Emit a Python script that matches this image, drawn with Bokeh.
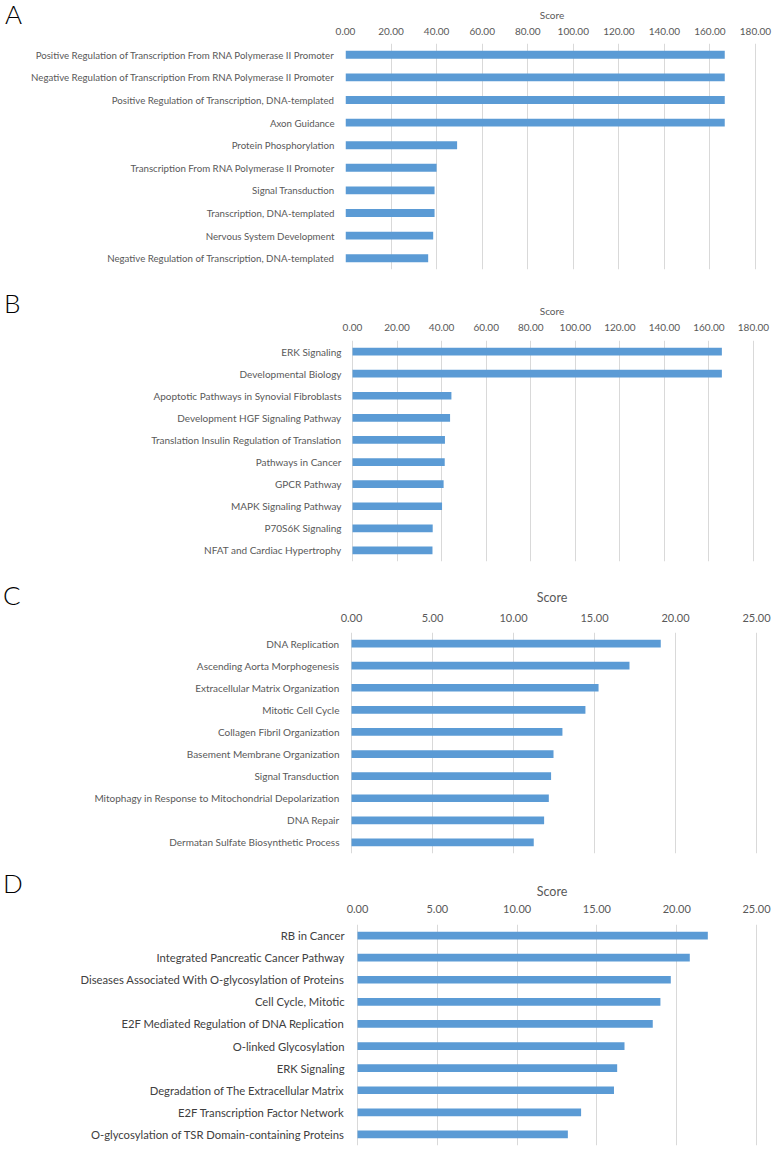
from bokeh.plotting import figure
from bokeh.layouts import column, row
from bokeh.models import Range1d, FactorRange, FixedTicker, PrintfTickFormatter, Div
from bokeh.embed import file_html
from bokeh.resources import INLINE

# ---------------- data ----------------
a_terms = [
    "Positive Regulation of Transcription From RNA Polymerase II Promoter",
    "Negative Regulation of Transcription From RNA Polymerase II Promoter",
    "Positive Regulation of Transcription, DNA-templated",
    "Axon Guidance",
    "Protein Phosphorylation",
    "Transcription From RNA Polymerase II Promoter",
    "Signal Transduction",
    "Transcription, DNA-templated",
    "Nervous System Development",
    "Negative Regulation of Transcription, DNA-templated",
]
a_scores = [166.5, 166.5, 166.5, 166.5, 49.0, 40.0, 39.1, 39.1, 38.5, 36.3]

b_terms = [
    "ERK Signaling",
    "Developmental Biology",
    "Apoptotic Pathways in Synovial Fibroblasts",
    "Development HGF Signaling Pathway",
    "Translation Insulin Regulation of Translation",
    "Pathways in Cancer",
    "GPCR Pathway",
    "MAPK Signaling Pathway",
    "P70S6K Signaling",
    "NFAT and Cardiac Hypertrophy",
]
b_scores = [165.8, 165.8, 44.4, 43.8, 41.5, 41.4, 40.9, 40.2, 36.0, 35.9]

c_terms = [
    "DNA Replication",
    "Ascending Aorta Morphogenesis",
    "Extracellular Matrix Organization",
    "Mitotic Cell Cycle",
    "Collagen Fibril Organization",
    "Basement Membrane Organization",
    "Signal Transduction",
    "Mitophagy in Response to Mitochondrial Depolarization",
    "DNA Repair",
    "Dermatan Sulfate Biosynthetic Process",
]
c_scores = [19.09, 17.16, 15.25, 14.44, 13.02, 12.47, 12.32, 12.18, 11.89, 11.25]

d_terms = [
    "RB in Cancer",
    "Integrated Pancreatic Cancer Pathway",
    "Diseases Associated With O-glycosylation of Proteins",
    "Cell Cycle, Mitotic",
    "E2F Mediated Regulation of DNA Replication",
    "O-linked Glycosylation",
    "ERK Signaling",
    "Degradation of The Extracellular Matrix",
    "E2F Transcription Factor Network",
    "O-glycosylation of TSR Domain-containing Proteins",
]
d_scores = [21.95, 20.82, 19.63, 18.98, 18.50, 16.73, 16.27, 16.07, 14.01, 13.18]

ticks_ab = [0, 20, 40, 60, 80, 100, 120, 140, 160, 180]
ticks_cd = [0, 5, 10, 15, 20, 25]

FONT = "Lato"
BAR = "#5B9BD5"
GRID = "#D9D9D9"
TXT = "#595959"
PAGE_W = 773
DIV_W = 24
FRAME_L = 345   # common frame left (page px)
FRAME_R = 758   # common frame right (page px)


def panel(letter, terms, scores, ticks, fig_top, fig_bottom, zero_px, max_px,
          frame_top, frame_bottom, label_right, lab_size, lab_color, tick_size,
          score_size, tick_standoff, score_standoff, letter_x, letter_top):
    xmax = ticks[-1]
    scale = (max_px - zero_px) / xmax
    x0 = (FRAME_L - zero_px) / scale
    x1 = xmax + (FRAME_R - max_px) / scale
    h = fig_bottom - fig_top
    p = figure(
        width=PAGE_W - DIV_W, height=h,
        x_range=Range1d(x0, x1),
        y_range=FactorRange(factors=list(reversed(terms))),
        x_axis_location="above",
        output_backend="svg", toolbar_location=None, title=None,
        min_border_left=FRAME_L - DIV_W,
        min_border_right=PAGE_W - FRAME_R,
        min_border_top=frame_top - fig_top,
        min_border_bottom=fig_bottom - frame_bottom,
    )
    p.outline_line_color = None
    p.hbar(y=terms, right=scores, left=0, height=0.35, fill_color=BAR, line_color=None)

    xa = p.xaxis[0]
    xa.ticker = FixedTicker(ticks=ticks)
    xa.formatter = PrintfTickFormatter(format="%.2f")
    xa.axis_line_color = None
    xa.major_tick_line_color = None
    xa.minor_tick_line_color = None
    xa.major_tick_out = 0
    xa.major_tick_in = 0
    xa.minor_tick_out = 0
    xa.major_label_text_font = FONT
    xa.major_label_text_font_size = f"{tick_size}px"
    xa.major_label_text_color = TXT
    xa.major_label_standoff = tick_standoff
    xa.axis_label = "Score"
    xa.axis_label_text_font = FONT
    xa.axis_label_text_font_style = "normal"
    xa.axis_label_text_font_size = f"{score_size}px"
    xa.axis_label_text_color = TXT
    xa.axis_label_standoff = score_standoff

    ya = p.yaxis[0]
    ya.axis_line_color = None
    ya.major_tick_line_color = None
    ya.minor_tick_line_color = None
    ya.major_tick_out = 0
    ya.major_tick_in = 0
    ya.minor_tick_out = 0
    ya.major_label_text_font = FONT
    ya.major_label_text_font_size = f"{lab_size}px"
    ya.major_label_text_color = lab_color
    ya.major_label_standoff = FRAME_L - label_right

    p.xgrid.ticker = FixedTicker(ticks=ticks)
    p.xgrid.grid_line_color = GRID
    p.ygrid.grid_line_color = None

    top = max(0, letter_top - fig_top - 6)
    d = Div(
        text=(f'<div style="box-sizing:border-box;width:{DIV_W}px;'
              f'padding-top:{top}px;padding-left:{letter_x}px;'
              f'font-family:Lato;font-weight:300;font-size:26px;line-height:28px;'
              f'color:#000000;">{letter}</div>'),
        width=DIV_W, height=h, margin=0,
    )
    return row(d, p, spacing=0)


pA = panel("A", a_terms, a_scores, ticks_ab, 0, 283, 345, 755, 43, 269, 334,
           9.7, TXT, 10, 10, 9, 4, 5, 3)
pB = panel("B", b_terms, b_scores, ticks_ab, 283, 575, 352, 753, 340, 561, 341,
           10, TXT, 10, 10, 10, 4, 4, 295)
pC = panel("C", c_terms, c_scores, ticks_cd, 575, 862, 351, 756, 632, 853, 339,
           10, TXT, 11, 12.5, 11, 6, 3, 587)
pD = panel("D", d_terms, d_scores, ticks_cd, 862, 1149, 357, 756, 924, 1145, 344,
           11.25, "#404040", 11, 12.5, 12, 3, 3, 875)

layout = column(pA, pB, pC, pD, spacing=0)
open("out.html", "w").write(file_html(layout, INLINE))
